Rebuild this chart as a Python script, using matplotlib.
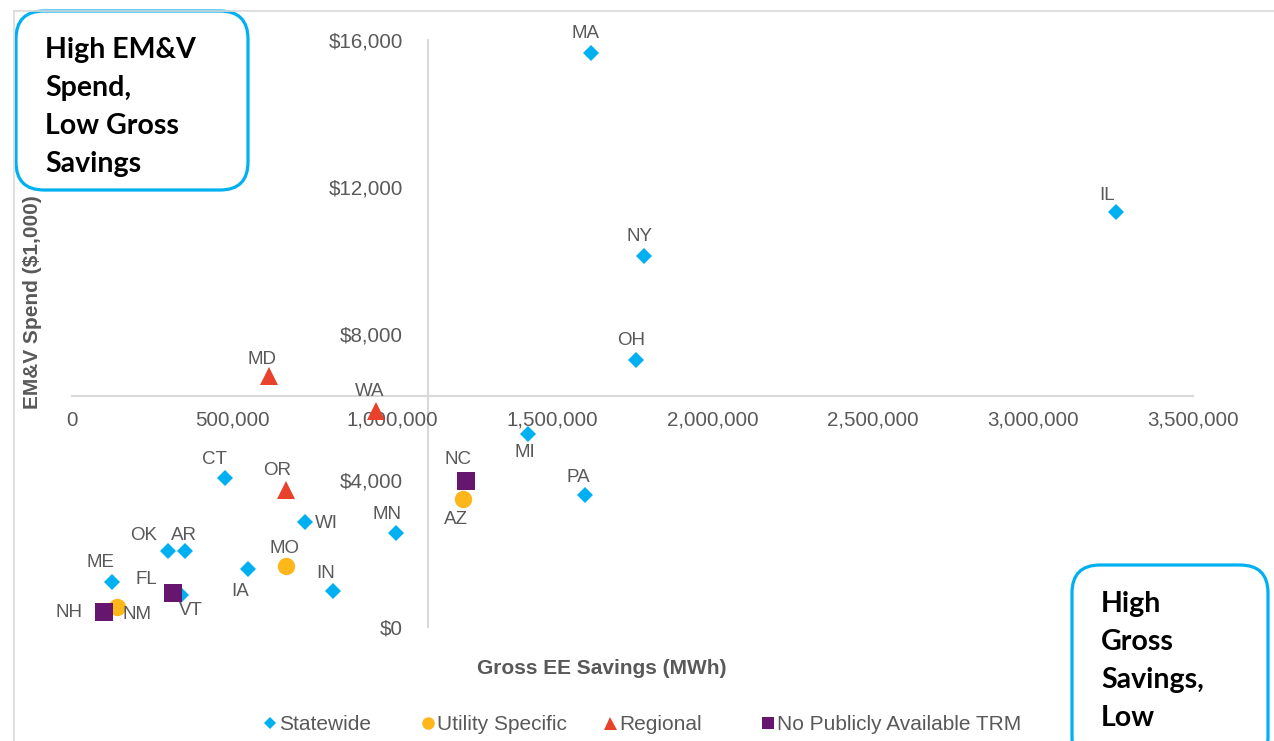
import matplotlib
matplotlib.use("Agg")
import matplotlib.pyplot as plt
from matplotlib.patches import FancyBboxPatch
from matplotlib.ticker import FuncFormatter

plt.rcParams["font.family"] = ["Liberation Sans", "DejaVu Sans"]

# data
states = ["MA", "IL", "NY", "OH", "MI", "CT", "PA", "WI", "MN", "OK", "AR",
          "IA", "ME", "IN", "VT",
          "NM", "MO", "AZ",
          "MD", "WA", "OR",
          "NH", "FL", "NC"]
trm_type = ["Statewide"] * 15 + ["Utility Specific"] * 3 + ["Regional"] * 3 + \
           ["No Publicly Available TRM"] * 3
savings_mwh = [1621000, 3260000, 1786000, 1761000, 1424000, 478000, 1602000,
               728000, 1012000, 300000, 353000, 550000, 125000, 815000, 340000,
               141000, 668000, 1221000,
               615000, 949000, 668000,
               100000, 315000, 1230000]
emv_spend = [15650, 11310, 10110, 7280, 5260, 4060, 3600, 2860, 2560, 2070,
             2070, 1580, 1230, 980, 870,
             550, 1660, 3490,
             6830, 5890, 3730,
             410, 930, 3980]
# label offsets in pixels (dx right, dy down) relative to each marker
label_dx = [-6, -9, -5, -5, -3, -11, -7, 21, -9, -24, -1, -8, -12, -7, 10,
            20, -1, -7, -7, -6, -9, -35, -27, -8]
label_dy = [-19, -17, -20, -19, 18, -19, -17, 1, -19, -16, -16, 22, -19, -18,
            15, 8, -18, 21, -17, -19, -20, 1, -13, -21]

x_cross = 1111800
y_cross = 6310

series = ["Statewide", "Utility Specific", "Regional", "No Publicly Available TRM"]
colors = {"Statewide": "#00B0F0", "Utility Specific": "#FDB71A",
          "Regional": "#E8412C", "No Publicly Available TRM": "#66166E"}
markers = {"Statewide": ("D", 8.6), "Utility Specific": ("o", 12.5),
           "Regional": ("^", 13), "No Publicly Available TRM": ("s", 12.5)}

GREY = "#595959"
W, H = 1274, 741
fig = plt.figure(figsize=(W / 100, H / 100), dpi=100)
ax = fig.add_axes([72 / W, 1 - 627 / H, (1193 - 72) / W, (627 - 40) / H])

for s in series:
    xs = [x for x, t in zip(savings_mwh, trm_type) if t == s]
    ys = [y for y, t in zip(emv_spend, trm_type) if t == s]
    m, ms = markers[s]
    ax.plot(xs, ys, ls="none", marker=m, ms=ms, color=colors[s],
            markeredgewidth=0, zorder=3, clip_on=False)

for st, x, y, dx, dy in zip(states, savings_mwh, emv_spend, label_dx, label_dy):
    ax.annotate(st, (x, y), xytext=(dx, -dy), textcoords="offset pixels",
                ha="center", va="center", fontsize=13.5, color=GREY, zorder=4)

ax.set_xlim(0, 3500000)
ax.set_ylim(0, 16000)
ax.set_xticks(range(0, 3500001, 500000))
ax.set_yticks(range(0, 16001, 4000))
ax.xaxis.set_major_formatter(FuncFormatter(lambda v, p: f"{v:,.0f}"))
ax.yaxis.set_major_formatter(FuncFormatter(lambda v, p: f"${v:,.0f}"))
ax.spines["left"].set_position(("data", x_cross))
ax.spines["bottom"].set_position(("data", y_cross))
for sp in ["left", "bottom"]:
    ax.spines[sp].set_color("#D9D9D9")
    ax.spines[sp].set_linewidth(1.5)
    ax.spines[sp].set_zorder(1)
ax.spines["top"].set_visible(False)
ax.spines["right"].set_visible(False)
ax.tick_params(axis="x", length=0, pad=11, labelsize=14.8, labelcolor=GREY)
ax.tick_params(axis="y", length=0, pad=18, labelsize=14.8, labelcolor=GREY)
ax.patch.set_alpha(0)

# overlay in pixel coordinates for titles, frame, legend and quadrant boxes
ov = fig.add_axes([0, 0, 1, 1], zorder=5)
ov.set_xlim(0, W)
ov.set_ylim(H, 0)
ov.axis("off")
ov.patch.set_alpha(0)

ov.plot([14, W], [11, 11], color="#D9D9D9", lw=1.2)
ov.plot([14, 14], [11, H], color="#D9D9D9", lw=1.2)

ov.text(602, 668, "Gross EE Savings (MWh)", ha="center", va="center",
        fontsize=15, fontweight="bold", color=GREY)
ov.text(33, 302, "EM&V Spend ($1,000)", ha="center", va="center", rotation=90,
        fontsize=15, fontweight="bold", color=GREY)

leg_x = [270, 428, 610, 768]
for s, lx in zip(series, leg_x):
    m, ms = markers[s]
    ov.plot([lx], [723], ls="none", marker=m, ms=ms * 0.72, color=colors[s],
            markeredgewidth=0)
    ov.text(lx + 9, 724, s, ha="left", va="center", fontsize=15, color=GREY)

box_font = dict(fontsize=20.5, fontweight="bold", color="black",
                family=["Lato", "DejaVu Sans"], ha="left", va="center")
for (bx, by, bw, bh), lines, tx, ty in [
        ((16, 11, 232, 179), ["High EM&V", "Spend,", "Low Gross", "Savings"], 45, 50),
        ((1072, 565, 196, 200), ["High", "Gross", "Savings,", "Low"], 1101, 604)]:
    ov.add_patch(FancyBboxPatch((bx, by), bw, bh,
                                boxstyle="round,pad=0,rounding_size=28",
                                facecolor="white", edgecolor="#00B0F0", lw=2.3))
    for i, ln in enumerate(lines):
        ov.text(tx, ty + 38 * i, ln, **box_font)

fig.savefig("out.png", dpi=100)
